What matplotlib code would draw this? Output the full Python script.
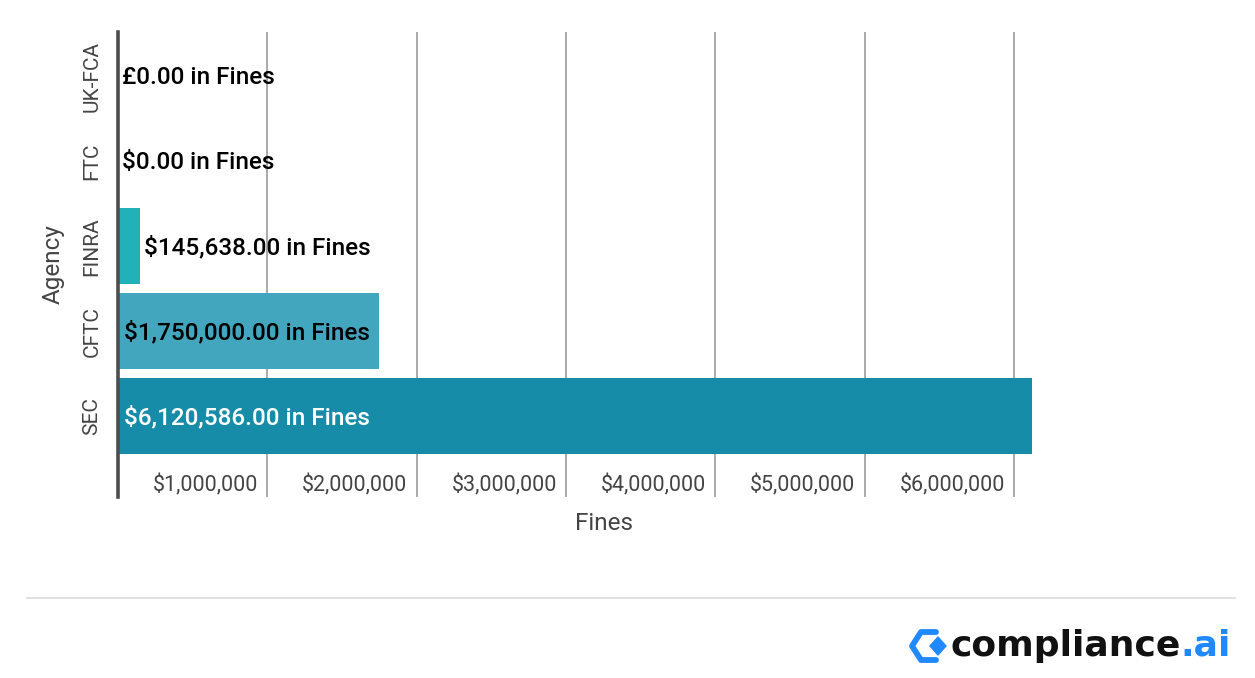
import matplotlib.pyplot as plt
import matplotlib.transforms as mtransforms
from matplotlib.patches import Polygon
from matplotlib.lines import Line2D

plt.rcParams['font.family'] = ['Roboto', 'DejaVu Sans']

agencies = ['SEC', 'CFTC', 'FINRA', 'FTC', 'UK-FCA']
fines = [6120586.00, 1750000.00, 145638.00, 0.0, 0.0]
labels = ['$6,120,586.00 in Fines', '$1,750,000.00 in Fines', '$145,638.00 in Fines',
          '$0.00 in Fines', '£0.00 in Fines']
bar_colors = ['#178ca8', '#42a6be', '#22b1b8', '#22b1b8', '#22b1b8']
label_inside = [True, True, False, False, False]
label_colors = ['white', 'black', 'black', 'black', 'black']
xticks = [1000000, 2000000, 3000000, 4000000, 5000000, 6000000]
xtick_labels = ['$1,000,000', '$2,000,000', '$3,000,000', '$4,000,000', '$5,000,000', '$6,000,000']

W, H = 1255, 678
fig = plt.figure(figsize=(W / 100, H / 100), dpi=100)
fig.patch.set_facecolor('white')

# axes box in pixels: left 118, right ~1090, top 32, bottom 497
ax = fig.add_axes([118 / W, (H - 497) / H, (1090 - 118) / W, (497 - 32) / H])
ax.set_xlim(0, 6510000)
ax.set_ylim(-0.95, 4.52)

ax.barh(range(len(agencies)), fines, height=0.9, color=bar_colors, zorder=3)

for x in xticks:
    ax.axvline(x, color='#a9a9a9', lw=1.4, zorder=1)

for s in ['top', 'right', 'bottom']:
    ax.spines[s].set_visible(False)
ax.spines['left'].set_color('#4d4d4d')
ax.spines['left'].set_linewidth(2.6)
ax.spines['left'].set_zorder(4)

ax.set_xticks([])
ax.set_yticks(range(len(agencies)))
ax.set_yticklabels(agencies, rotation=90, va='center', fontsize=15, color='#444444')
ax.tick_params(axis='y', length=0, pad=12)

# x tick labels sit inside the plot, just left of each grid line
tick_tr = mtransforms.offset_copy(ax.get_xaxis_transform(), fig=fig, x=-9, y=0, units='dots')
for x, t in zip(xticks, xtick_labels):
    ax.text(x, 0.026, t, transform=tick_tr, ha='right', va='center',
            fontsize=15.5, color='#444444')

ax.set_xlabel('Fines', fontsize=17.5, color='#444444', labelpad=11)
ax.set_ylabel('Agency', fontsize=17.5, color='#444444', labelpad=13)

# bar value labels
inside_tr = mtransforms.offset_copy(ax.transData, fig=fig, x=6, y=-1, units='dots')
outside_tr = mtransforms.offset_copy(ax.transData, fig=fig, x=4, y=-1, units='dots')
for i, (v, lab) in enumerate(zip(fines, labels)):
    if label_inside[i]:
        ax.text(0, i, lab, transform=inside_tr, ha='left', va='center',
                fontsize=17.5, color=label_colors[i], fontweight='medium', zorder=5)
    else:
        ax.text(v, i, lab, transform=outside_tr, ha='left', va='center',
                fontsize=17.5, color=label_colors[i], fontweight='medium', zorder=5)

# footer separator
fig.add_artist(Line2D([27 / W, 1235 / W], [(H - 598) / H] * 2, color='#dddddd', lw=1.3))


def px(x, y):
    return (x / W, (H - y) / H)


# logo icon
chev = [px(936, 632), px(921, 632), px(912, 646), px(921, 660), px(936, 660)]
fig.add_artist(Line2D([p[0] for p in chev], [p[1] for p in chev], color='#2189ff',
                      lw=4.2, solid_joinstyle='round', solid_capstyle='round'))
fig.add_artist(Polygon([px(938, 637), px(946, 646), px(938, 655), px(930, 646)],
                       closed=True, color='#2189ff', transform=fig.transFigure))

logo = fig.text(950 / W, (H - 646) / H, 'compliance', fontsize=26, fontweight='bold',
                family='DejaVu Sans', color='#111111', ha='left', va='center')
fig.canvas.draw()
bb = logo.get_window_extent()
fig.text(bb.x1 / W, (H - 646) / H, '.ai', fontsize=26, fontweight='bold',
         family='DejaVu Sans', color='#2189ff', ha='left', va='center')

fig.savefig('out.png', dpi=100, facecolor='white')
